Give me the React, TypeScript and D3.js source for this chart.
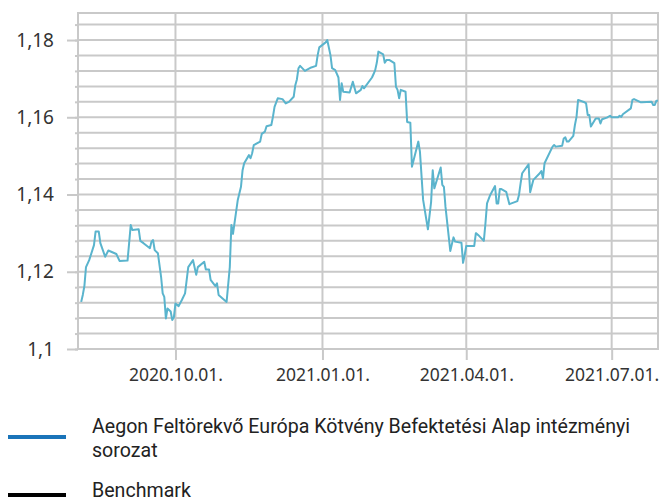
import React, { useEffect, useRef } from "react";
import * as d3 from "d3";

// fund price series
const dates = [
  "2020-08-03", "2020-08-04", "2020-08-05", "2020-08-06", "2020-08-08", "2020-08-11",
  "2020-08-12", "2020-08-14", "2020-08-15", "2020-08-18", "2020-08-20", "2020-08-25",
  "2020-08-27", "2020-09-01", "2020-09-02", "2020-09-03", "2020-09-04", "2020-09-08",
  "2020-09-09", "2020-09-11", "2020-09-15", "2020-09-16", "2020-09-17", "2020-09-18",
  "2020-09-20", "2020-09-22", "2020-09-23", "2020-09-24", "2020-09-25", "2020-09-26",
  "2020-09-28", "2020-09-29", "2020-09-30", "2020-10-01", "2020-10-03", "2020-10-05",
  "2020-10-07", "2020-10-09", "2020-10-12", "2020-10-14", "2020-10-15", "2020-10-19",
  "2020-10-20", "2020-10-22", "2020-10-23", "2020-10-26", "2020-10-27", "2020-10-28",
  "2020-11-02", "2020-11-04", "2020-11-05", "2020-11-06", "2020-11-09", "2020-11-11",
  "2020-11-12", "2020-11-13", "2020-11-16", "2020-11-17", "2020-11-18", "2020-11-19",
  "2020-11-23", "2020-11-24", "2020-11-26", "2020-11-27", "2020-11-30", "2020-12-01",
  "2020-12-02", "2020-12-04", "2020-12-07", "2020-12-09", "2020-12-11", "2020-12-14",
  "2020-12-15", "2020-12-16", "2020-12-17", "2020-12-18", "2020-12-21", "2020-12-25",
  "2020-12-28", "2020-12-29", "2020-12-30", "2021-01-03", "2021-01-04", "2021-01-06",
  "2021-01-07", "2021-01-09", "2021-01-11", "2021-01-12", "2021-01-13", "2021-01-14",
  "2021-01-18", "2021-01-20", "2021-01-22", "2021-01-25", "2021-01-26", "2021-01-27",
  "2021-02-01", "2021-02-02", "2021-02-03", "2021-02-04", "2021-02-05", "2021-02-08",
  "2021-02-09", "2021-02-10", "2021-02-12", "2021-02-15", "2021-02-16", "2021-02-17",
  "2021-02-18", "2021-02-19", "2021-02-22", "2021-02-23", "2021-02-25", "2021-02-26",
  "2021-03-02", "2021-03-03", "2021-03-05", "2021-03-08", "2021-03-10", "2021-03-11",
  "2021-03-12", "2021-03-16", "2021-03-17", "2021-03-18", "2021-03-19", "2021-03-22",
  "2021-03-24", "2021-03-25", "2021-03-29", "2021-03-30", "2021-03-31", "2021-04-01",
  "2021-04-06", "2021-04-07", "2021-04-09", "2021-04-12", "2021-04-13", "2021-04-14",
  "2021-04-16", "2021-04-19", "2021-04-20", "2021-04-21", "2021-04-22", "2021-04-23",
  "2021-04-26", "2021-04-28", "2021-05-03", "2021-05-04", "2021-05-05", "2021-05-06",
  "2021-05-10", "2021-05-11", "2021-05-13", "2021-05-17", "2021-05-18", "2021-05-19",
  "2021-05-20", "2021-05-25", "2021-05-26", "2021-05-27", "2021-05-31", "2021-06-01",
  "2021-06-02", "2021-06-03", "2021-06-04", "2021-06-07", "2021-06-08", "2021-06-09",
  "2021-06-10", "2021-06-14", "2021-06-15", "2021-06-16", "2021-06-17", "2021-06-18",
  "2021-06-21", "2021-06-23", "2021-06-24", "2021-06-25", "2021-06-28", "2021-06-30",
  "2021-07-01", "2021-07-05", "2021-07-06", "2021-07-07", "2021-07-08", "2021-07-13",
  "2021-07-14", "2021-07-15", "2021-07-19", "2021-07-20", "2021-07-26", "2021-07-27",
  "2021-07-28", "2021-07-29", "2021-07-30",
];

const values = [
  1.1122, 1.114, 1.1163, 1.1212, 1.123, 1.1269,
  1.1304, 1.1304, 1.1274, 1.1239, 1.1255, 1.1246,
  1.1228, 1.1229, 1.1274, 1.1321, 1.1308, 1.131,
  1.128, 1.1274, 1.1261, 1.1278, 1.1282, 1.1256,
  1.1248, 1.1187, 1.1144, 1.1135, 1.1079, 1.1105,
  1.1097, 1.1075, 1.1082, 1.1118, 1.1111, 1.1127,
  1.1144, 1.1212, 1.123, 1.1192, 1.1212, 1.1226,
  1.1206, 1.1206, 1.1179, 1.1163, 1.117, 1.114,
  1.1122, 1.1212, 1.1321, 1.1298, 1.1386, 1.142,
  1.1463, 1.1481, 1.1502, 1.1494, 1.1507, 1.1528,
  1.1537, 1.1557, 1.1563, 1.1577, 1.158, 1.1601,
  1.1627, 1.1649, 1.1647, 1.1636, 1.164, 1.1653,
  1.1683, 1.1698, 1.1727, 1.1733, 1.172, 1.1729,
  1.1733, 1.1761, 1.1781, 1.1794, 1.18, 1.1761,
  1.1727, 1.1722, 1.1703, 1.1645, 1.1688, 1.1666,
  1.1664, 1.1692, 1.1662, 1.1671, 1.1681, 1.1675,
  1.1703, 1.1712, 1.1722, 1.1741, 1.177, 1.1763,
  1.1741, 1.1748, 1.1748, 1.174, 1.1679, 1.1671,
  1.1649, 1.1671, 1.1666, 1.1588, 1.1586, 1.1472,
  1.1537, 1.1511, 1.1386, 1.131, 1.1381, 1.1463,
  1.1416, 1.147, 1.1425, 1.142, 1.1368, 1.1254,
  1.1289, 1.1278, 1.1275, 1.1223, 1.1243, 1.1267,
  1.1267, 1.13, 1.1293, 1.128, 1.1325, 1.1377,
  1.1399, 1.1422, 1.1377, 1.1377, 1.1414, 1.1414,
  1.1407, 1.1375, 1.1383, 1.1399, 1.1429, 1.1455,
  1.1478, 1.1406, 1.1438, 1.1455, 1.1461, 1.1442,
  1.1481, 1.1524, 1.1528, 1.1524, 1.1526, 1.1545,
  1.1548, 1.1537, 1.1537, 1.1552, 1.158, 1.1601,
  1.1645, 1.1639, 1.1636, 1.1606, 1.1606, 1.1576,
  1.1597, 1.1597, 1.1584, 1.1595, 1.1599, 1.1604,
  1.16, 1.16, 1.1604, 1.1601, 1.1608, 1.1623,
  1.1645, 1.1647, 1.1639, 1.1639, 1.164, 1.1632,
  1.1632, 1.1643, 1.1643,
];

const xDomain = ["2020-08-01", "2021-07-30"];
const xTicks = ["2020-10-01", "2021-01-01", "2021-04-01", "2021-07-01"];
const yDomain = [1.1, 1.187];
const yTicks = [1.1, 1.12, 1.14, 1.16, 1.18];

const legendNames = [
  ["Aegon Feltörekvő Európa Kötvény Befektetési Alap intézményi", "sorozat"],
  ["Benchmark"],
];
const legendColors = ["#1a74b9", "#000000"];

const W = 659;
const H = 498;

export default function App() {
  const svgRef = useRef<SVGSVGElement>(null);

  useEffect(() => {
    document.body.style.margin = "0";
    const svg = d3.select(svgRef.current);
    svg.selectAll("*").remove();

    const parse = d3.timeParse("%Y-%m-%d");
    const data = dates.map((d, i) => ({ date: parse(d) as Date, value: values[i] }));

    const left = 78, right = 658, top = 13, bottom = 349;
    const x = d3.scaleTime().domain(xDomain.map((d) => parse(d) as Date)).range([left, right]);
    const y = d3.scaleLinear().domain(yDomain).range([bottom, top]);

    const grid = "#c9c9c9";
    const minor = d3.range(1.1, 1.1861, 0.004);

    // horizontal grid
    svg.append("g")
      .selectAll("line")
      .data(minor)
      .join("line")
      .attr("x1", left)
      .attr("x2", right)
      .attr("y1", (d) => y(d))
      .attr("y2", (d) => y(d))
      .attr("stroke", grid)
      .attr("stroke-width", 2);

    // vertical grid
    svg.append("g")
      .selectAll("line")
      .data(xTicks)
      .join("line")
      .attr("x1", (d) => x(parse(d) as Date))
      .attr("x2", (d) => x(parse(d) as Date))
      .attr("y1", top)
      .attr("y2", bottom)
      .attr("stroke", grid)
      .attr("stroke-width", 2);

    // frame
    svg.append("rect")
      .attr("x", left)
      .attr("y", top)
      .attr("width", right - left)
      .attr("height", bottom - top)
      .attr("fill", "none")
      .attr("stroke", grid)
      .attr("stroke-width", 2);

    // minor y ticks
    const yMinor = d3.axisLeft(y).tickValues(minor).tickSize(3).tickFormat(() => "");
    svg.append("g")
      .attr("transform", `translate(${left},0)`)
      .call(yMinor)
      .call((g) => g.select(".domain").remove())
      .call((g) => g.selectAll("line").attr("stroke", grid).attr("stroke-width", 2));

    const yAxis = d3.axisLeft(y)
      .tickValues(yTicks)
      .tickSize(11)
      .tickPadding(13)
      .tickFormat((d) => String(+(+d).toFixed(2)).replace(".", ","));
    svg.append("g")
      .attr("transform", `translate(${left},0)`)
      .call(yAxis)
      .call((g) => g.select(".domain").remove())
      .call((g) => g.selectAll("line").attr("stroke", grid).attr("stroke-width", 2))
      .call((g) =>
        g.selectAll("text")
          .attr("fill", "#333")
          .style("font", "19px 'Noto Sans', sans-serif")
      );

    const xAxis = d3.axisBottom(x)
      .tickValues(xTicks.map((d) => parse(d) as Date))
      .tickSize(11)
      .tickPadding(9)
      .tickFormat((d) => d3.timeFormat("%Y.%m.%d.")(d as Date));
    svg.append("g")
      .attr("transform", `translate(0,${bottom})`)
      .call(xAxis)
      .call((g) => g.select(".domain").remove())
      .call((g) => g.selectAll("line").attr("stroke", grid).attr("stroke-width", 2))
      .call((g) =>
        g.selectAll("text")
          .attr("fill", "#333")
          .style("font", "17.5px 'Noto Sans', sans-serif")
      );

    const line = d3.line<{ date: Date; value: number }>()
      .x((d) => x(d.date))
      .y((d) => y(d.value));

    svg.append("path")
      .datum(data)
      .attr("d", line)
      .attr("fill", "none")
      .attr("stroke", "#5ab4cd")
      .attr("stroke-width", 2)
      .attr("stroke-linejoin", "round");

    // legend
    const legendY = [437, 495];
    const textY = [433, 497];
    legendNames.forEach((lines, i) => {
      svg.append("line")
        .attr("x1", 8)
        .attr("x2", 66)
        .attr("y1", legendY[i])
        .attr("y2", legendY[i])
        .attr("stroke", legendColors[i])
        .attr("stroke-width", 4);
      const t = svg.append("text")
        .attr("x", 92)
        .attr("y", textY[i])
        .attr("fill", "#222")
        .style("font", "19.6px Roboto, sans-serif");
      lines.forEach((ln, k) => {
        t.append("tspan").attr("x", 92).attr("dy", k === 0 ? 0 : 24).text(ln);
      });
    });
  }, []);

  return (
    <svg
      ref={svgRef}
      width={W}
      height={H}
      style={{ position: "absolute", left: 0, top: 0, background: "#fff" }}
    />
  );
}
